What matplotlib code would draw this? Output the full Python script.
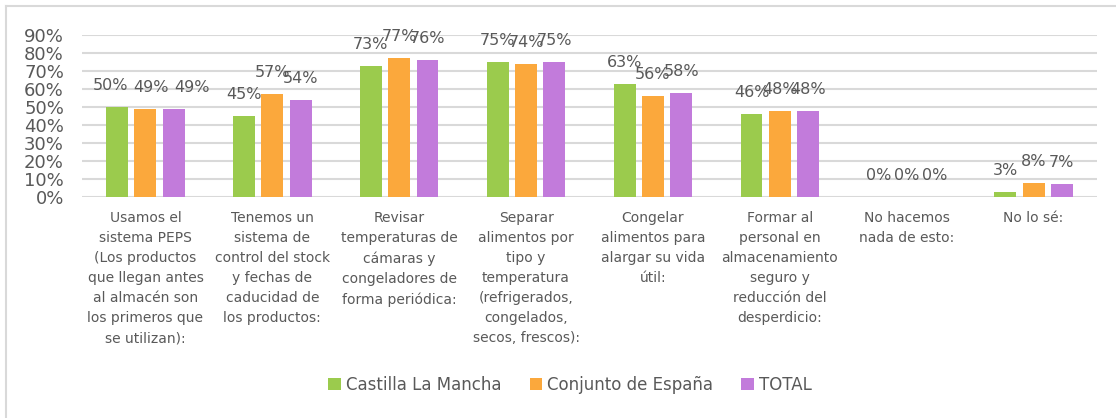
import matplotlib
matplotlib.use("Agg")
import matplotlib.pyplot as plt
import numpy as np
from matplotlib.patches import Patch
from matplotlib.lines import Line2D

categories = [
    "Usamos el\nsistema PEPS\n(Los productos\nque llegan antes\nal almacén son\nlos primeros que\nse utilizan):",
    "Tenemos un\nsistema de\ncontrol del stock\ny fechas de\ncaducidad de\nlos productos:",
    "Revisar\ntemperaturas de\ncámaras y\ncongeladores de\nforma periódica:",
    "Separar\nalimentos por\ntipo y\ntemperatura\n(refrigerados,\ncongelados,\nsecos, frescos):",
    "Congelar\nalimentos para\nalargar su vida\nútil:",
    "Formar al\npersonal en\nalmacenamiento\nseguro y\nreducción del\ndesperdicio:",
    "No hacemos\nnada de esto:",
    "No lo sé:",
]
series_names = ["Castilla La Mancha", "Conjunto de España", "TOTAL"]
castilla = [50, 45, 73, 75, 63, 46, 0, 3]
espana = [49, 57, 77, 74, 56, 48, 0.2, 8]
total = [49, 54, 76, 75, 58, 48, 0, 7]
yticks = [0, 10, 20, 30, 40, 50, 60, 70, 80, 90]

colors = ["#9BCB4D", "#FBA83C", "#C27BDB"]
text_color = "#595959"
grid_color = "#D9D9D9"

W, H = 1116, 418
fig = plt.figure(figsize=(W / 100, H / 100), dpi=100)
ax = fig.add_axes([82 / W, 1 - 197 / H, (1097 - 82) / W, (197 - 35) / H])

# first group's labels were nudged sideways in the original (points)
first_group_dx = [-5, 4, 13]

x = np.arange(len(categories))
step = 0.223
width = 0.173
for i, (name, vals) in enumerate(zip(series_names, [castilla, espana, total])):
    pos = x + (i - 1) * step
    ax.bar(pos, vals, width=width, color=colors[i], zorder=3, label=name)
    for j, (xp, v) in enumerate(zip(pos, vals)):
        dx = first_group_dx[i] if j == 0 else 0
        ax.annotate(f"{v:.0f}%", (xp, v), xytext=(dx, 15.5), textcoords="offset points",
                    ha="center", va="center", fontsize=11.5, color=text_color, zorder=4)

ax.set_xlim(-0.5, len(categories) - 0.5)
ax.set_ylim(0, 90)
ax.set_yticks(yticks)
ax.set_yticklabels([f"{t}%" for t in yticks], fontsize=13, color=text_color)
ax.set_xticks(x)
ax.set_xticklabels(categories, fontsize=10, color=text_color, linespacing=1.55, va="top")
ax.tick_params(axis="both", length=0)
ax.tick_params(axis="x", pad=10)
ax.tick_params(axis="y", pad=13)
for s in ax.spines.values():
    s.set_visible(False)
ax.yaxis.grid(True, color=grid_color, linewidth=1.5, zorder=0)
ax.set_axisbelow(True)

# chart border (top and left visible)
fig.add_artist(Line2D([6 / W, 1], [1 - 6 / H, 1 - 6 / H], color=grid_color, linewidth=1.5))
fig.add_artist(Line2D([6 / W, 6 / W], [0, 1 - 6 / H], color=grid_color, linewidth=1.5))

handles = [Patch(facecolor=c, edgecolor="none") for c in colors]
fig.legend(handles, series_names, loc="center", bbox_to_anchor=(570 / W, 33 / H),
           ncol=3, frameon=False, fontsize=12, handlelength=0.75, handleheight=0.75,
           handletextpad=0.3, columnspacing=1.7, labelcolor=text_color)

fig.savefig("out.png", dpi=100, facecolor="white")
